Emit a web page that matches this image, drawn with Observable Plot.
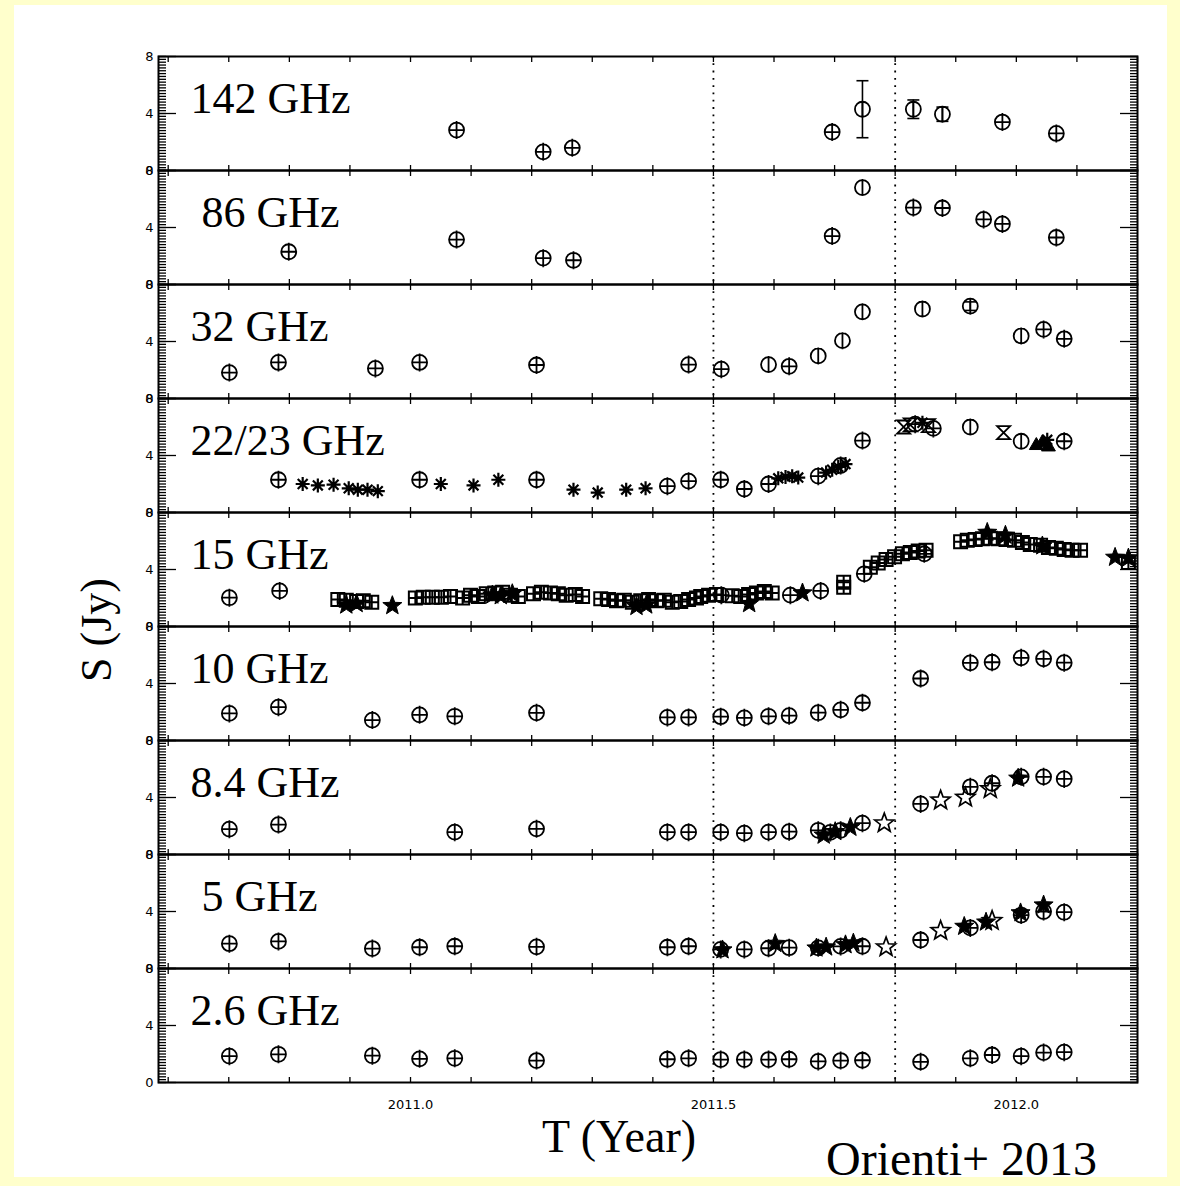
<!DOCTYPE html>
<html><head><meta charset="utf-8">
<script src="https://cdn.jsdelivr.net/npm/d3@7"></script>
<script src="https://cdn.jsdelivr.net/npm/@observablehq/plot@0.6"></script>
<style>
html,body{margin:0;padding:0;background:#ffffcc;overflow:hidden}
#page{position:relative;width:1180px;height:1186px}
#paper{position:absolute;left:14px;top:5px;width:1153px;height:1172px;background:#fff}
#chart{position:absolute;left:0;top:0}
.serif{position:absolute;font-family:"Liberation Serif",serif;color:#000;line-height:1;white-space:nowrap}
#ytitle{left:97px;top:630px;font-size:44px;transform:translate(-50%,-50%) rotate(-90deg)}
#xtitle{left:619px;top:1114px;font-size:46px;transform:translateX(-50%)}
#cite{left:826px;top:1135px;font-size:48px}
</style></head><body>
<div id="page">
<div id="paper"></div>
<div id="chart"></div>
<div class="serif" id="ytitle">S (Jy)</div>
<div class="serif" id="xtitle">T (Year)</div>
<div class="serif" id="cite">Orienti+ 2013</div>
</div>
<script>
// ---- data: [year, flux density (Jy), marker kind, error (Jy)] ----
// kinds: p = circle+cross, o = open circle, b = boxed cross, a = asterisk,
//        s = filled star, w = open star, h = hourglass, t = filled triangle
const bands = ["142 GHz","86 GHz","32 GHz","22/23 GHz","15 GHz","10 GHz","8.4 GHz","5 GHz","2.6 GHz"];
const bandTitles = ["142 GHz","\u00a086 GHz","32 GHz","22/23 GHz","15 GHz","10 GHz","8.4 GHz","\u00a05 GHz","2.6 GHz"];

const s142 = [
 [2011.076,2.84,"p"],[2011.219,1.31,"p"],[2011.267,1.59,"p"],[2011.696,2.70,"p"],
 [2011.746,4.30,"o",2.0],[2011.830,4.30,"o",0.65],[2011.878,3.95,"o",0.5],
 [2011.977,3.40,"p"],[2012.066,2.60,"p"]
];
const s86 = [
 [2010.799,2.30,"p"],[2011.076,3.15,"p"],[2011.219,1.85,"p"],[2011.269,1.70,"p"],
 [2011.696,3.40,"p"],[2011.746,6.80,"o"],[2011.830,5.40,"p"],[2011.878,5.37,"p"],
 [2011.946,4.57,"p"],[2011.977,4.25,"p"],[2012.066,3.30,"p"]
];
const s32 = [
 [2010.701,1.82,"p"],[2010.782,2.53,"p"],[2010.942,2.11,"p"],[2011.015,2.53,"p"],
 [2011.208,2.35,"p"],[2011.459,2.38,"p"],[2011.513,2.06,"p"],[2011.591,2.38,"o"],
 [2011.625,2.26,"p"],[2011.673,2.99,"o"],[2011.713,4.06,"o"],[2011.746,6.08,"o"],
 [2011.845,6.28,"o"],[2011.924,6.48,"o",0.3],[2012.008,4.39,"o"],[2012.045,4.85,"p"],
 [2012.079,4.19,"p"]
];
const s22 = [
 [2010.782,2.30,"p"],[2010.822,2.00,"a"],[2010.847,1.90,"a"],[2010.873,1.95,"a"],
 [2010.898,1.70,"a"],[2010.913,1.60,"a"],[2010.929,1.60,"a"],[2010.946,1.50,"a"],
 [2011.015,2.30,"p"],[2011.050,2.00,"a"],[2011.104,1.90,"a"],[2011.145,2.30,"a"],
 [2011.208,2.30,"p"],[2011.269,1.60,"a"],[2011.309,1.40,"a"],[2011.356,1.60,"a"],
 [2011.388,1.70,"a"],[2011.424,1.85,"p"],[2011.459,2.20,"p"],[2011.512,2.30,"p"],
 [2011.551,1.65,"p"],[2011.591,2.00,"p"],[2011.607,2.40,"a"],[2011.619,2.50,"a"],
 [2011.630,2.55,"a"],[2011.640,2.45,"a"],[2011.673,2.55,"p"],[2011.686,2.80,"a"],
 [2011.696,3.00,"a"],[2011.706,3.20,"a"],[2011.710,3.30,"p"],[2011.718,3.40,"a"],
 [2011.746,5.05,"p"],[2011.814,6.00,"h"],[2011.825,6.15,"h"],[2011.833,6.20,"p"],
 [2011.845,6.30,"a"],[2011.855,6.10,"h"],[2011.863,5.90,"p"],[2011.924,6.00,"o"],
 [2011.979,5.60,"h"],[2012.008,5.00,"o"],[2012.033,4.70,"t"],[2012.043,4.90,"t"],
 [2012.051,5.10,"a"],[2012.053,4.60,"t"],[2012.079,5.00,"p"]
];
const s15 = [
 [2010.701,2.02,"p"],[2010.784,2.50,"p"],
 [2010.880,1.90,"b"],[2010.894,1.85,"b"],[2010.911,1.75,"b"],[2010.922,1.80,"b"],[2010.936,1.70,"b"],
 [2010.894,1.50,"s"],[2010.911,1.60,"s"],[2010.970,1.46,"s"],
 [2011.008,2.00,"b"],[2011.021,2.05,"b"],[2011.036,2.05,"b"],[2011.051,2.05,"b"],[2011.066,2.10,"b"],
 [2011.086,2.00,"b"],[2011.099,2.20,"b"],[2011.112,2.10,"b"],[2011.125,2.30,"b"],[2011.139,2.35,"b"],
 [2011.152,2.40,"b"],[2011.165,2.20,"b"],[2011.178,2.10,"b"],
 [2011.135,2.20,"s"],[2011.149,2.15,"s"],[2011.168,2.30,"s"],
 [2011.203,2.30,"b"],[2011.216,2.40,"b"],[2011.231,2.35,"b"],[2011.244,2.30,"b"],[2011.257,2.20,"b"],
 [2011.272,2.25,"b"],[2011.284,2.10,"b"],
 [2011.314,1.95,"b"],[2011.327,1.90,"b"],[2011.340,1.80,"b"],[2011.353,1.85,"b"],[2011.366,1.70,"b"],
 [2011.380,1.80,"b"],[2011.393,1.90,"b"],[2011.406,1.80,"b"],[2011.419,1.85,"b"],[2011.432,1.70,"b"],
 [2011.446,1.75,"b"],[2011.459,1.90,"b"],[2011.472,2.00,"b"],
 [2011.373,1.40,"s"],[2011.389,1.50,"s"],
 [2011.479,2.10,"b"],[2011.492,2.20,"b"],[2011.505,2.25,"b"],[2011.513,2.20,"p"],
 [2011.531,2.15,"b"],[2011.545,2.10,"b"],[2011.558,2.25,"b"],[2011.571,2.35,"b"],[2011.584,2.45,"b"],
 [2011.597,2.35,"b"],[2011.559,1.60,"s"],
 [2011.627,2.20,"p"],[2011.647,2.35,"s"],[2011.677,2.50,"p"],
 [2011.715,3.10,"b"],[2011.715,2.75,"b"],[2011.749,3.70,"p"],
 [2011.759,4.15,"b"],[2011.772,4.45,"b"],[2011.785,4.70,"b"],[2011.799,4.90,"b"],[2011.812,5.10,"b"],
 [2011.825,5.20,"b"],[2011.838,5.30,"b"],[2011.851,5.35,"b"],[2011.848,5.10,"p"],
 [2011.908,5.95,"b"],[2011.919,6.05,"b"],[2011.932,6.10,"b"],[2011.944,6.15,"b"],[2011.957,6.20,"b"],
 [2011.970,6.15,"b"],[2011.983,6.10,"b"],[2011.997,6.05,"b"],[2012.010,5.90,"b"],[2012.023,5.75,"b"],
 [2012.040,5.70,"b"],[2012.053,5.55,"b"],[2012.066,5.50,"b"],[2012.079,5.40,"b"],[2012.092,5.35,"b"],
 [2012.106,5.35,"b"],
 [2011.952,6.60,"s"],[2011.982,6.40,"s"],[2012.043,5.65,"s"],
 [2012.163,4.85,"s"],[2012.185,4.80,"s"],[2012.185,4.50,"b"]
];
const s10 = [
 [2010.701,1.90,"p"],[2010.782,2.34,"p"],[2010.937,1.43,"p"],[2011.015,1.80,"p"],
 [2011.073,1.70,"p"],[2011.208,1.94,"p"],[2011.424,1.62,"p"],[2011.459,1.62,"p"],
 [2011.512,1.67,"p"],[2011.551,1.59,"p"],[2011.591,1.70,"p"],[2011.625,1.74,"p"],
 [2011.673,1.95,"p"],[2011.710,2.15,"p"],[2011.746,2.65,"p"],[2011.842,4.35,"p"],
 [2011.924,5.45,"p"],[2011.960,5.49,"p"],[2012.008,5.80,"p"],[2012.045,5.73,"p"],
 [2012.079,5.46,"p"]
];
const s8 = [
 [2010.701,1.78,"p"],[2010.782,2.10,"p"],[2011.073,1.57,"p"],[2011.208,1.80,"p"],
 [2011.424,1.57,"p"],[2011.459,1.57,"p"],[2011.512,1.57,"p"],[2011.551,1.50,"p"],
 [2011.591,1.57,"p"],[2011.625,1.60,"p"],
 [2011.673,1.70,"p"],[2011.682,1.35,"s"],[2011.693,1.55,"p"],[2011.701,1.60,"s"],
 [2011.710,1.70,"p"],[2011.726,1.90,"s"],[2011.746,2.20,"p"],[2011.782,2.20,"w"],
 [2011.842,3.55,"p"],[2011.875,3.80,"w"],[2011.916,4.00,"w"],[2011.924,4.75,"p"],
 [2011.957,4.60,"w"],[2011.960,5.00,"p"],[2012.003,5.35,"s"],[2012.008,5.45,"p"],
 [2012.045,5.45,"p"],[2012.079,5.30,"p"]
];
const s5 = [
 [2010.701,1.74,"p"],[2010.782,1.90,"p"],[2010.937,1.40,"p"],[2011.015,1.49,"p"],
 [2011.073,1.56,"p"],[2011.208,1.52,"p"],[2011.424,1.49,"p"],[2011.459,1.56,"p"],
 [2011.512,1.34,"p"],[2011.515,1.30,"s"],[2011.551,1.34,"p"],[2011.591,1.42,"p"],
 [2011.602,1.75,"s"],[2011.625,1.46,"p"],
 [2011.670,1.43,"s"],[2011.673,1.45,"p"],[2011.686,1.50,"s"],[2011.710,1.55,"p"],
 [2011.718,1.66,"s"],[2011.731,1.78,"s"],[2011.746,1.56,"p"],[2011.785,1.50,"w"],
 [2011.842,2.00,"p"],[2011.875,2.65,"w"],[2011.914,2.95,"s"],[2011.924,2.85,"p"],
 [2011.950,3.25,"s"],[2011.960,3.35,"w"],[2012.007,3.90,"s"],[2012.008,3.75,"p"],
 [2012.045,4.45,"s"],[2012.045,4.00,"p"],[2012.079,3.95,"p"]
];
const s26 = [
 [2010.701,1.85,"p"],[2010.782,1.98,"p"],[2010.937,1.88,"p"],[2011.015,1.66,"p"],
 [2011.073,1.70,"p"],[2011.208,1.54,"p"],[2011.424,1.63,"p"],[2011.459,1.70,"p"],
 [2011.512,1.61,"p"],[2011.551,1.61,"p"],[2011.591,1.61,"p"],[2011.625,1.63,"p"],
 [2011.673,1.48,"p"],[2011.710,1.54,"p"],[2011.746,1.56,"p"],[2011.842,1.45,"p"],
 [2011.924,1.70,"p"],[2011.960,1.93,"p"],[2012.008,1.85,"p"],[2012.045,2.10,"p"],
 [2012.079,2.13,"p"]
];
const xTickLabels = [2011.0, 2011.5, 2012.0];
const yTickLabels = [0, 4, 8];
const dottedEpochs = [2011.5, 2011.8];

// ---- build table ----
const seriesByBand = [s142, s86, s32, s22, s15, s10, s8, s5, s26];
const table = bands.flatMap((b, i) => seriesByBand[i].map(([t, s, k, e]) => ({band: b, t, s, k, e})));
const errs = table.filter(d => d.e);

// ---- marker shapes ----
const rad = size => Math.sqrt(size / Math.PI);
const circlePlus = {draw(c, size) {const r = rad(size);
  c.moveTo(r, 0); c.arc(0, 0, r, 0, 2 * Math.PI);
  c.moveTo(-r, 0); c.lineTo(r, 0); c.moveTo(0, -r - 1.5); c.lineTo(0, r + 1.5);}};
const phi = {draw(c, size) {const r = rad(size);
  c.moveTo(r, 0); c.arc(0, 0, r, 0, 2 * Math.PI);
  c.moveTo(0, -r - 1); c.lineTo(0, r + 1);}};
const boxPlus = {draw(c, size) {const r = rad(size);
  c.rect(-r, -r, 2 * r, 2 * r); c.moveTo(-r, 0); c.lineTo(r, 0); c.moveTo(0, -r); c.lineTo(0, r);}};
const asterisk = {draw(c, size) {const r = rad(size);
  for (const a of [0, Math.PI / 4, Math.PI / 2, 3 * Math.PI / 4]) {
    c.moveTo(r * Math.cos(a), r * Math.sin(a)); c.lineTo(-r * Math.cos(a), -r * Math.sin(a));}}};
const star = {draw(c, size) {const r = rad(size);
  for (let i = 0; i < 10; i++) {const a = -Math.PI / 2 + i * Math.PI / 5, q = i % 2 ? r * 0.42 : r;
    i ? c.lineTo(q * Math.cos(a), q * Math.sin(a)) : c.moveTo(q * Math.cos(a), q * Math.sin(a));}
  c.closePath();}};
const hourglass = {draw(c, size) {const r = rad(size);
  c.moveTo(-r, -r); c.lineTo(r, -r); c.lineTo(-r, r); c.lineTo(r, r); c.closePath();}};
const triangle = {draw(c, size) {const r = rad(size);
  c.moveTo(0, -r); c.lineTo(r * 0.87, r * 0.5); c.lineTo(-r * 0.87, r * 0.5); c.closePath();}};
const cap = {draw(c, size) {const r = rad(size); c.moveTo(-r, 0); c.lineTo(r, 0);}};

const kindStyle = [
  ["b", boxPlus, 6.5, "none", 2],
  ["a", asterisk, 7, "none", 2.2],
  ["p", circlePlus, 7.5, "none", 1.8],
  ["o", phi, 7.5, "none", 1.8],
  ["h", hourglass, 6.5, "none", 1.8],
  ["t", triangle, 8, "black", 1],
  ["w", star, 10, "none", 1.7],
  ["s", star, 10, "black", 1]
];

const yMinor = d3.range(0, 8.001, 0.2);
const xMinor = d3.range(2010.6, 2012.25, 0.1);

const chart = Plot.plot({
  width: 1180, height: 1186,
  marginLeft: 158, marginRight: 43, marginTop: 52, marginBottom: 101,
  x: {domain: [2010.584, 2012.2]},
  y: {domain: [0, 8]},
  fy: {domain: bands, padding: 0, axis: null},
  style: {fontFamily: "DejaVu Sans", fontSize: "13px", background: "transparent", color: "black", overflow: "visible"},
  marks: [
    Plot.ruleX(dottedEpochs, {stroke: "black", strokeWidth: 1.8, strokeDasharray: "1.8,5.5"}),
    Plot.axisY({anchor: "left", ticks: yMinor, tickSize: -8, tickFormat: () => "", label: null, strokeWidth: 1.3}),
    Plot.axisY({anchor: "right", ticks: yMinor, tickSize: -8, tickFormat: () => "", label: null, strokeWidth: 1.3}),
    Plot.axisY({anchor: "left", ticks: yTickLabels, tickSize: -18, tickPadding: 23, tickFormat: d => String(d), label: null, fontSize: 13, strokeWidth: 1.3}),
    Plot.axisY({anchor: "right", ticks: yTickLabels, tickSize: -18, tickFormat: () => "", label: null, strokeWidth: 1.3}),
    Plot.axisX({anchor: "bottom", facetAnchor: null, ticks: xMinor, tickSize: -5, tickFormat: () => "", label: null, strokeWidth: 1.3}),
    Plot.axisX({anchor: "top", facetAnchor: null, ticks: xMinor, tickSize: -5, tickFormat: () => "", label: null, strokeWidth: 1.3}),
    Plot.axisX({anchor: "bottom", ticks: xTickLabels, tickSize: 0, tickPadding: 17, tickFormat: d3.format(".1f"), label: null, fontSize: 13}),
    Plot.frame({stroke: "black", strokeWidth: 2}),
    Plot.text(bands, {fy: d => d, text: (d, i) => bandTitles[i], frameAnchor: "top-left", dx: 32, dy: 25,
      lineAnchor: "top", textAnchor: "start", fontSize: 44, fontFamily: "Liberation Serif", fill: "black"}),
    Plot.ruleX(errs, {x: "t", y1: d => d.s - d.e, y2: d => d.s + d.e, fy: "band", stroke: "black", strokeWidth: 1.6}),
    Plot.dot(errs, {x: "t", y: d => d.s + d.e, fy: "band", symbol: cap, r: 6, fill: "none", stroke: "black", strokeWidth: 1.6}),
    Plot.dot(errs, {x: "t", y: d => d.s - d.e, fy: "band", symbol: cap, r: 6, fill: "none", stroke: "black", strokeWidth: 1.6}),
    ...kindStyle.map(([k, symbol, r, fill, sw]) =>
      Plot.dot(table.filter(d => d.k === k), {x: "t", y: "s", fy: "band", symbol, r, fill, stroke: "black", strokeWidth: sw}))
  ]
});
document.getElementById("chart").append(chart);
</script>
</body></html>
